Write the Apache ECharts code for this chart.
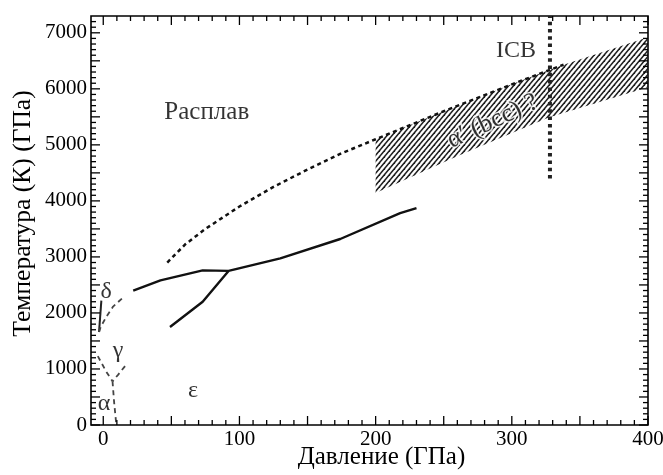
<!DOCTYPE html>
<html>
<head>
<meta charset="utf-8">
<script src="https://cdn.jsdelivr.net/npm/echarts@6/dist/echarts.min.js"></script>
<style>
  html, body { margin: 0; padding: 0; background: #fff; }
  #chart { width: 663px; height: 475px; }
</style>
</head>
<body>
<div id="chart"></div>
<script>
// Iron phase diagram: pressure (GPa) vs temperature (K)

// Melting curve (dashed)
const meltP = [47, 60, 75, 100, 125, 150, 175, 200, 250, 300, 327, 338];
const meltT = [2900, 3220, 3500, 3900, 4250, 4560, 4850, 5100, 5600, 6080, 6330, 6430];

// Solid boundary: delta/gamma/epsilon – melt and gamma–epsilon plateau
const upperP = [22, 42, 73, 92, 130, 174, 218, 230];
const upperT = [2400, 2580, 2760, 2750, 2975, 3320, 3780, 3870];

// gamma–epsilon branch from the triple point
const branchP = [92, 73, 49];
const branchT = [2750, 2200, 1750];

// delta field boundary (solid)
const deltaP = [-1.4, -3.1];
const deltaT = [2220, 1660];

// delta–gamma boundary (dashed)
const deltaGammaP = [-3.1, -1.8, 2.3, 7.2, 14.8];
const deltaGammaT = [1660, 1755, 1934, 2113, 2280];

// low pressure dashed boundaries around alpha / gamma / epsilon
const alphaGammaP = [-4, 2, 6.8];
const alphaGammaT = [1230, 960, 780];
const gammaEpsP = [16, 11, 6.8];
const gammaEpsT = [1050, 900, 780];
const alphaEpsP = [6.8, 8, 9.6];
const alphaEpsT = [780, 400, 0];

// hatched alpha' (bcc) region
const bccUpperP = [200, 250, 300, 327, 338, 400];
const bccUpperT = [5100, 5600, 6080, 6330, 6430, 6920];
const bccLowerP = [200, 259, 327, 400];
const bccLowerT = [4140, 4790, 5490, 6030];

// inner core boundary pressure
const icbP = 328;
const icbT = [4400, 7300];

// annotations
const noteText = ['Расплав', 'ICB', 'δ', 'γ', 'α', 'ε', "α′ (bcc) ?"];
const noteP = [76, 303, 2.2, 10.9, 0.6, 66, 286];
const noteT = [5580, 6680, 2380, 1330, 375, 620, 5420];

// axis ticks
const xMajor = [0, 50, 100, 150, 200, 250, 300, 350, 400];
const xLabels = [0, 100, 200, 300, 400];
const xMinor = [];
for (let v = 10; v < 400; v += 10) if (v % 50 !== 0) xMinor.push(v);
const yMajor = [];
for (let v = 0; v <= 7000; v += 500) yMajor.push(v);
const yLabels = [0, 1000, 2000, 3000, 4000, 5000, 6000, 7000];
const yMinor = [];
for (let v = 100; v <= 7200; v += 100) if (v % 500 !== 0) yMinor.push(v);

const zip = (a, b) => a.map((v, i) => [v, b[i]]);
const FONT = 'Liberation Serif';
const X_MIN = -9, X_MAX = 400, Y_MIN = 0, Y_MAX = 7300;
const MAJOR_LEN = 9, MINOR_LEN = 5;

function hatchPattern() {
  const w = 5, h = 6;
  const c = document.createElement('canvas');
  c.width = w; c.height = h;
  const ctx = c.getContext('2d');
  ctx.strokeStyle = '#1e1e1e';
  ctx.lineWidth = 1.5;
  for (const dx of [-w, 0, w]) {
    ctx.beginPath();
    ctx.moveTo(dx - w, 2 * h);
    ctx.lineTo(dx + 2 * w, -h);
    ctx.stroke();
  }
  return c;
}
const hatch = hatchPattern();

function lineSeries(p, t, style) {
  return {
    type: 'line', xAxisIndex: 0, yAxisIndex: 0,
    data: zip(p, t), symbol: 'none', smooth: false,
    lineStyle: style, silent: true, z: 3
  };
}

// inward ticks on all four sides of the frame, placed through the axis scales
function tickSeries() {
  return {
    type: 'custom', xAxisIndex: 0, yAxisIndex: 0, data: [0], silent: true, z: 6, clip: false,
    renderItem: function (params, api) {
      const children = [];
      const st = { stroke: '#000', lineWidth: 1.3 };
      const addX = (vals, len) => vals.forEach(v => {
        const b = api.coord([v, Y_MIN]);
        const t = api.coord([v, Y_MAX]);
        children.push({ type: 'line', shape: { x1: b[0], y1: b[1], x2: b[0], y2: b[1] - len }, style: st });
        children.push({ type: 'line', shape: { x1: t[0], y1: t[1], x2: t[0], y2: t[1] + len }, style: st });
      });
      const addY = (vals, len) => vals.forEach(v => {
        const l = api.coord([X_MIN, v]);
        const r = api.coord([X_MAX, v]);
        children.push({ type: 'line', shape: { x1: l[0], y1: l[1], x2: l[0] + len, y2: l[1] }, style: st });
        children.push({ type: 'line', shape: { x1: r[0], y1: r[1], x2: r[0] - len, y2: r[1] }, style: st });
      });
      addX(xMajor, MAJOR_LEN);
      addX(xMinor, MINOR_LEN);
      addY(yMajor, MAJOR_LEN);
      addY(yMinor, MINOR_LEN);
      return { type: 'group', children: children };
    }
  };
}

const option = {
  animation: false,
  backgroundColor: '#fff',
  grid: {
    left: 91, top: 16, right: 15, bottom: 50, containLabel: false,
    outerBoundsMode: 'none',
    show: true, borderColor: '#000', borderWidth: 1.6, backgroundColor: 'transparent'
  },
  xAxis: {
    type: 'value', min: X_MIN, max: X_MAX,
    axisLine: { show: false },
    axisTick: { show: false },
    axisLabel: {
      customValues: xLabels, formatter: v => String(v),
      fontFamily: FONT, fontSize: 21, color: '#000', margin: 4, hideOverlap: false
    },
    splitLine: { show: false },
    name: 'Давление (ГПа)', nameLocation: 'middle', nameGap: 20, nameMoveOverlap: false,
    nameTextStyle: { fontFamily: FONT, fontSize: 25, color: '#000', padding: [0, 0, 0, 24] }
  },
  yAxis: {
    type: 'value', min: Y_MIN, max: Y_MAX,
    axisLine: { show: false },
    axisTick: { show: false },
    axisLabel: {
      customValues: yLabels, formatter: v => String(v),
      fontFamily: FONT, fontSize: 21, color: '#000', margin: 4, hideOverlap: false
    },
    splitLine: { show: false },
    name: 'Температура (К) (ГПа)', nameLocation: 'middle', nameGap: 55, nameMoveOverlap: false,
    nameTextStyle: { fontFamily: FONT, fontSize: 25.5, color: '#000', padding: [0, 0, 0, 14] }
  },
  series: [
    {
      type: 'custom', xAxisIndex: 0, yAxisIndex: 0, data: [0], silent: true, z: 1,
      renderItem: function (params, api) {
        const up = zip(bccUpperP, bccUpperT).map(p => api.coord(p));
        const lo = zip(bccLowerP, bccLowerT).reverse().map(p => api.coord(p));
        return {
          type: 'polygon',
          shape: { points: up.concat(lo) },
          style: { fill: { image: hatch, repeat: 'repeat' }, stroke: null }
        };
      }
    },
    lineSeries(meltP, meltT, { color: '#111', width: 2.5, type: [4, 3.5] }),
    lineSeries(upperP, upperT, { color: '#111', width: 2.4 }),
    lineSeries(branchP, branchT, { color: '#111', width: 2.4 }),
    lineSeries(deltaP, deltaT, { color: '#222', width: 2 }),
    lineSeries(deltaGammaP, deltaGammaT, { color: '#444', width: 1.8, type: [5, 4] }),
    lineSeries(alphaGammaP, alphaGammaT, { color: '#444', width: 1.8, type: [5, 4] }),
    lineSeries(gammaEpsP, gammaEpsT, { color: '#444', width: 1.8, type: [5, 4] }),
    lineSeries(alphaEpsP, alphaEpsT, { color: '#444', width: 1.8, type: [5, 4] }),
    lineSeries([icbP, icbP], icbT, { color: '#222', width: 4, type: [3.5, 3.8] }),
    tickSeries(),
    {
      type: 'scatter', xAxisIndex: 0, yAxisIndex: 0, symbolSize: 0, silent: true, z: 5,
      data: noteText.map((txt, i) => {
        const item = { value: [noteP[i], noteT[i]], name: txt };
        if (txt.indexOf('bcc') >= 0) {
          item.label = { rotate: 25, fontSize: 26, color: '#000', textBorderColor: '#fff', textBorderWidth: 3 };
        } else if (txt === 'Расплав') {
          item.label = { fontSize: 25 };
        } else if (txt === 'ICB') {
          item.label = { fontSize: 24 };
        }
        return item;
      }),
      label: {
        show: true, position: 'inside', formatter: '{b}',
        fontFamily: FONT, fontSize: 24, color: '#000',
        align: 'center', verticalAlign: 'middle'
      }
    }
  ]
};

const chart = echarts.init(document.getElementById('chart'), null, { renderer: 'canvas' });
chart.setOption(option);
</script>
</body>
</html>
